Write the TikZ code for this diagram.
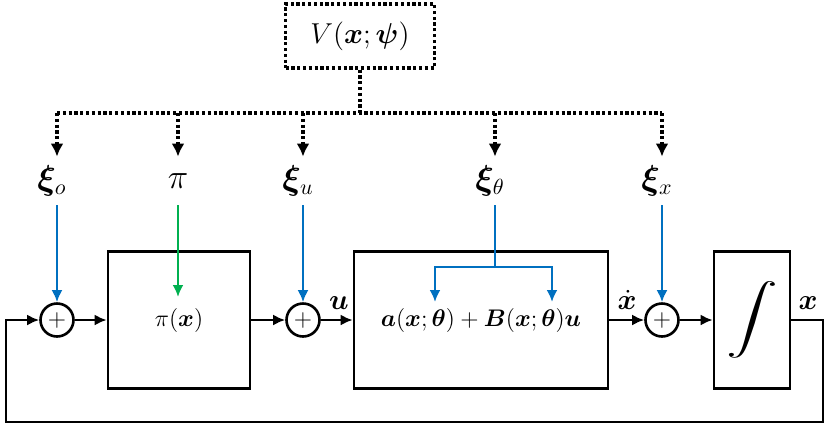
\documentclass[tikz,border=0pt]{standalone}
\usepackage{amsmath,bm}
\usetikzlibrary{positioning, arrows.meta, calc}
\definecolor{sigblue}{RGB}{0,112,192}
\definecolor{siggreen}{RGB}{0,176,80}
\tikzset{
  arr/.style={-{Latex[length=6pt,width=5.5pt]}, line width=1.3pt, draw=black},
  barr/.style={-{Latex[length=6pt,width=5.5pt]}, line width=1.4pt, draw=sigblue},
  garr/.style={-{Latex[length=6pt,width=5.5pt]}, line width=1.4pt, draw=siggreen},
  dots/.style={line width=1.6pt, dash pattern=on 1.6pt off 1.3pt},
  darr/.style={dots, -{Latex[length=6.5pt,width=6.5pt]}},
  blk/.style={draw, line width=1.3pt, inner sep=0pt, minimum height=68.5pt},
  sumnode/.style={draw, circle, line width=1.3pt, inner sep=0pt, minimum size=16.5pt,
    font=\fontsize{13}{13}\selectfont},
  lab/.style={inner sep=0pt, minimum height=24pt, font=\fontsize{16}{18}\selectfont},
  sig/.style={inner sep=0pt, anchor=south}
}
\begin{document}
\begin{tikzpicture}[x=0.5pt, y=-0.5pt, font=\fontsize{15}{18}\selectfont]
\useasboundingbox (0,0) rectangle (831,430);
% value function on top
\node[draw, dots, minimum width=74.5pt, minimum height=32pt] (V) at (360,36)
  {$V(\bm{x};\bm{\psi})$};
\coordinate (bus) at (360,113);
% disturbance labels
\node[lab] (xio)  at (52,181)  {$\bm{\xi}_o$};
\node[lab] (pil)  at (178,181) {$\pi$};
\node[lab] (xiu)  at (298,181) {$\bm{\xi}_u$};
\node[lab] (xith) at (490,181) {$\bm{\xi}_\theta$};
\node[lab] (xix)  at (657,181) {$\bm{\xi}_x$};
% main loop
\node[sumnode] (s1) at (57,320) {$+$};
\node[blk, minimum width=71pt, font=\fontsize{13}{16}\selectfont] (pol) at (179,320)
  {$\pi(\bm{x})$};
\node[sumnode] (s2) at (303,320) {$+$};
\node[blk, minimum width=127pt, font=\fontsize{13}{16}\selectfont] (dyn) at (481,320)
  {$\bm{a}(\bm{x};\bm{\theta})+\bm{B}(\bm{x};\bm{\theta})\bm{u}$};
\node[sumnode] (s3) at (662,320) {$+$};
\node[blk, minimum width=38pt] (int) at (752,320)
  {\scalebox{1.5}[1]{\fontsize{19}{19}\selectfont$\displaystyle\int$}};
\coordinate (fr) at (823,422);
\coordinate (fl) at (6,422);
\coordinate (pin) at (178,297);
\coordinate (fork) at (495,267);
\coordinate (ta) at (435,302);
\coordinate (tb) at (552,302);
% dotted distribution from V
\draw[dots] (V.south) -- (bus);
\draw[dots] (s1 |- bus) -- (s3 |- bus);
\draw[darr] (s1 |- bus) -- (s1 |- xio.north);
\draw[darr] (pin |- bus) -- (pin |- pil.north);
\draw[darr] (s2 |- bus) -- (s2 |- xiu.north);
\draw[darr] (fork |- bus) -- (fork |- xith.north);
\draw[darr] (s3 |- bus) -- (s3 |- xix.north);
% injected signals
\draw[barr] (s1 |- xio.south) -- (s1.north);
\draw[garr] (pin |- pil.south) -- (pin);
\draw[barr] (s2 |- xiu.south) -- (s2.north);
\draw[barr] (s3 |- xix.south) -- (s3.north);
\draw[barr] (fork |- xith.south) |- (ta |- fork) -- (ta);
\draw[barr] (fork |- xith.south) |- (tb |- fork) -- (tb);
% signal path
\draw[arr] (s1) -- (pol);
\draw[arr] (pol) -- (s2);
\draw[arr] (s2) -- (dyn);
\draw[arr] (dyn) -- (s3);
\draw[arr] (s3) -- (int);
\draw[arr, line width=1.4pt] (int.east) -| (fr) -- (fl) |- (s1.west);
\node[sig] (ul)  at (339,310) {$\bm{u}$};
\node[sig] (xd)  at (627,310) {$\dot{\bm{x}}$};
\node[sig] (xl)  at (808,310) {$\bm{x}$};
\end{tikzpicture}
\end{document}
